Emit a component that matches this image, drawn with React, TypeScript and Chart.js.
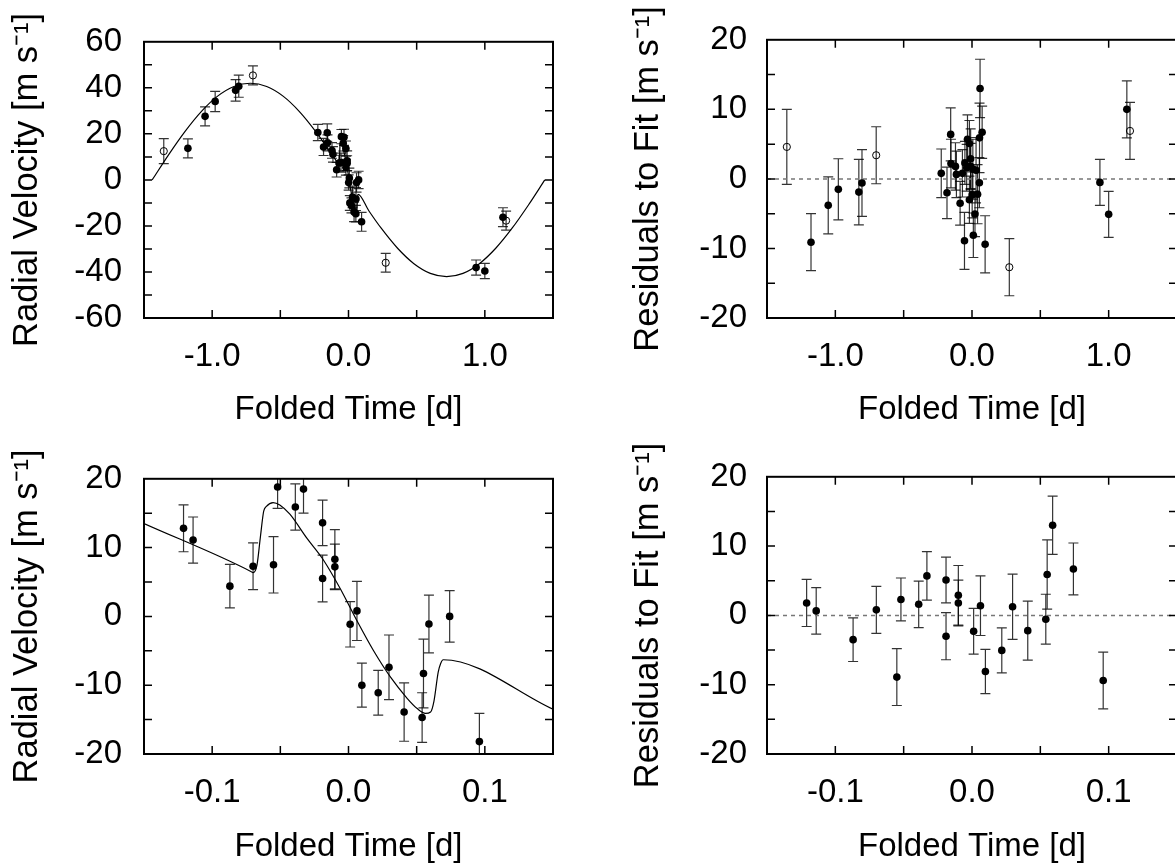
import React, { useEffect, useRef } from "react";
import { Chart, registerables } from "chart.js";

Chart.register(...registerables);

const FONT_FAMILY = "'Liberation Sans', Arial, Helvetica, sans-serif";
const FONT_SIZE = 33;
const Y_TITLE_SIZE = 34.5;

// ---- Data: points inside the transit window (shown in all four panels) ----
const innerTime = [-0.121, -0.114, -0.087, -0.070, -0.055, -0.052, -0.039, -0.033, -0.019, -0.019, -0.010, -0.010, 0.0012, 0.0062, 0.0098, 0.0218, 0.0297, 0.0408, 0.054, 0.055, 0.059, 0.0742, 0.096];
const innerRV = [12.8, 11.1, 4.4, 7.3, 7.5, 18.8, 15.9, 18.5, 5.5, 13.6, 8.3, 7.2, -1.15, 0.8, -10.0, -11.1, -7.4, -13.9, -14.7, -8.3, -1.1, 0.0, -18.2];
const innerErr = [3.4, 3.35, 3.15, 3.4, 4.1, 3.1, 3.35, 3.5, 3.4, 3.3, 4.3, 3.3, 3.3, 4.3, 3.2, 3.25, 4.7, 4.25, 3.6, 5.0, 4.2, 3.75, 4.1];
const innerResid = [1.8, 0.65, -3.5, 0.8, -8.9, 2.3, 1.6, 5.7, -3.0, 5.1, 2.9, 1.8, -2.3, 1.4, -8.1, -5.05, 1.25, -2.2, -0.55, 5.9, 13.0, 6.7, -9.4];

// ---- Data: other filled points (upper panels only) ----
const outerTime = [-1.178, -1.052, -0.978, -0.828, -0.805, -0.225, -0.183, -0.156, -0.154, 0.936, 1.0, 1.133];
const outerRV = [13.7, 27.6, 34.1, 38.9, 40.7, 20.6, 14.3, 20.5, 16.1, -38.1, -39.6, -16.2];
const outerErr = [4.1, 4.1, 4.4, 4.7, 4.8, 3.5, 3.7, 3.8, 3.5, 3.3, 3.3, 4.1];
const outerResid = [-9.1, -3.8, -1.5, -1.9, -0.6, 0.8, -2.0, 6.4, 2.2, -0.5, -5.1, 10.0];

// ---- Data: open circles (upper panels only) ----
const openTime = [-1.355, -0.701, 0.273, 1.156];
const openRV = [12.5, 45.4, -36.0, -17.7];
const openErr = [5.4, 4.1, 4.1, 4.1];
const openResid = [4.6, 3.4, -12.7, 6.9];

// ---- Model curve (orbit part, outside the transit window) ----
const modelTime = [-1.44, -1.32, -1.2, -1.08, -0.96, -0.84, -0.72, -0.6, -0.48, -0.36, -0.24, 0.24, 0.36, 0.48, 0.6, 0.72, 0.84, 0.96, 1.08, 1.2, 1.32, 1.44];
const modelRV = [0, 10.9, 21.0, 29.7, 36.4, 40.6, 42.0, 40.6, 36.4, 29.7, 21.0, -21.0, -29.7, -36.4, -40.6, -42.0, -40.6, -36.4, -29.7, -21.0, -10.9, 0];

// ---- Model curve (transit window, with the anomaly) ----
const rmTime = [-0.15, -0.0713, -0.07, -0.0671, -0.0646, -0.0622, -0.0602, -0.0553, -0.0504, -0.043, -0.0307, -0.0184, -0.0061, 0.0061, 0.0184, 0.0307, 0.043, 0.0504, 0.0565, 0.0602, 0.0627, 0.0658, 0.0676, 0.0695, 0.15];
const rmRV = [13.5, 6.5, 6.35, 7.5, 11.6, 15.3, 16.0, 16.55, 16.2, 14.85, 11.4, 8.2, 4.05, -0.6, -5.0, -8.8, -11.9, -13.4, -14.1, -13.9, -12.3, -8.1, -6.85, -6.3, -13.5];

// ---- Axis ticks ----
const wideTimeLabels = [-1, 0, 1];
const wideTimeMarks = [-1, -0.5, 0, 0.5, 1];
const zoomTimeLabels = [-0.1, 0, 0.1];
const zoomTimeMarks = [-0.1, -0.05, 0, 0.05, 0.1];
const rvWideLabels = [-60, -40, -20, 0, 20, 40, 60];
const rvWideMarks = [-50, -40, -30, -20, -10, 0, 10, 20, 30, 40, 50];
const smallLabels = [-20, -10, 0, 10, 20];
const smallMarks = [-15, -10, -5, 0, 5, 10, 15];

const X_TITLE = "Folded Time [d]";
const RV_TITLE = "Radial Velocity [m s\u207B\u00B9]";
const RES_TITLE = "Residuals to Fit [m s\u207B\u00B9]";

type Pt = { x: number; y: number; e: number };
const pts = (t: number[], v: number[], e?: number[]): Pt[] =>
  t.map((x, i) => ({ x, y: v[i], e: e ? e[i] : 0 }));

const filledSet = (data: Pt[]) => ({
  type: "scatter",
  data,
  withErrors: true,
  pointRadius: 3.8,
  pointHoverRadius: 3.8,
  pointBackgroundColor: "#000",
  pointBorderColor: "#000",
  pointBorderWidth: 0,
  showLine: false,
});

const openSet = (data: Pt[]) => ({
  type: "scatter",
  data,
  withErrors: true,
  pointRadius: 3.6,
  pointHoverRadius: 3.6,
  pointBackgroundColor: "rgba(0,0,0,0)",
  pointBorderColor: "#000",
  pointBorderWidth: 1,
  showLine: false,
});

const modelSet = (data: Pt[]) => ({
  type: "line",
  data,
  borderColor: "#000",
  borderWidth: 1.2,
  pointRadius: 0,
  cubicInterpolationMode: "monotone",
  fill: false,
});

const zeroSet = (xMin: number, xMax: number) => ({
  type: "line",
  data: [
    { x: xMin, y: 0 },
    { x: xMax, y: 0 },
  ],
  borderColor: "#777",
  borderWidth: 1.5,
  borderDash: [4, 4],
  pointRadius: 0,
  fill: false,
});

type Spec = {
  left: number;
  top: number;
  width: number;
  height: number;
  area: { left: number; top: number; right: number; bottom: number };
  xMin: number;
  xMax: number;
  xLabels: number[];
  xMarks: number[];
  xDigits: number;
  yMin: number;
  yMax: number;
  yLabels: number[];
  yMarks: number[];
  yTitle: string;
  yTitlePad: number;
  yTickPad: number;
  datasets: any[];
};

const framePlugin = (spec: Spec) => ({
  id: "frameTicks",
  beforeDatasetsDraw(chart: any) {
    const { ctx, chartArea: a, scales } = chart;
    const xs = scales.x;
    const ys = scales.y;
    ctx.save();
    ctx.beginPath();
    ctx.rect(a.left, a.top, a.right - a.left, a.bottom - a.top);
    ctx.clip();
    ctx.strokeStyle = "rgba(0,0,0,0.8)";
    ctx.lineWidth = 1.2;
    chart.data.datasets.forEach((ds: any) => {
      if (!ds.withErrors) return;
      ds.data.forEach((d: Pt) => {
        const px = xs.getPixelForValue(d.x);
        const yTop = ys.getPixelForValue(d.y + d.e);
        const yBot = ys.getPixelForValue(d.y - d.e);
        ctx.beginPath();
        ctx.moveTo(px, yTop);
        ctx.lineTo(px, yBot);
        ctx.moveTo(px - 5, yTop);
        ctx.lineTo(px + 5, yTop);
        ctx.moveTo(px - 5, yBot);
        ctx.lineTo(px + 5, yBot);
        ctx.stroke();
      });
    });
    ctx.restore();
  },
  afterDatasetsDraw(chart: any) {
    const { ctx, chartArea: a, scales } = chart;
    const xs = scales.x;
    const ys = scales.y;
    const tick = 8;
    ctx.save();
    ctx.strokeStyle = "#000";
    ctx.lineWidth = 1.5;
    ctx.beginPath();
    spec.xMarks.forEach((v) => {
      const px = xs.getPixelForValue(v);
      ctx.moveTo(px, a.bottom);
      ctx.lineTo(px, a.bottom - tick);
      ctx.moveTo(px, a.top);
      ctx.lineTo(px, a.top + tick);
    });
    spec.yMarks.forEach((v) => {
      const py = ys.getPixelForValue(v);
      ctx.moveTo(a.left, py);
      ctx.lineTo(a.left + tick, py);
      ctx.moveTo(a.right, py);
      ctx.lineTo(a.right - tick, py);
    });
    ctx.stroke();
    ctx.lineWidth = 2;
    ctx.strokeRect(a.left, a.top, a.right - a.left, a.bottom - a.top);
    ctx.restore();
  },
});

const makeConfig = (spec: Spec): any => {
  const font = { family: FONT_FAMILY, size: FONT_SIZE, lineHeight: 1.2 };
  const yTitleFont = { family: FONT_FAMILY, size: Y_TITLE_SIZE, lineHeight: 1.2 };
  return {
    type: "scatter",
    data: { datasets: spec.datasets },
    options: {
      animation: false,
      responsive: false,
      maintainAspectRatio: false,
      devicePixelRatio: 1,
      events: [],
      layout: {
        padding: {
          top: spec.area.top,
          right: spec.width - spec.area.right,
          left: 0,
          bottom: 0,
        },
      },
      plugins: {
        legend: { display: false },
        tooltip: { enabled: false },
      },
      scales: {
        x: {
          type: "linear",
          min: spec.xMin,
          max: spec.xMax,
          grid: { display: false, drawTicks: false },
          border: { display: false },
          afterBuildTicks: (s: any) => {
            s.ticks = spec.xLabels.map((v) => ({ value: v }));
          },
          afterFit: (s: any) => {
            s.height = spec.height - spec.area.bottom;
          },
          ticks: {
            autoSkip: false,
            maxRotation: 0,
            minRotation: 0,
            padding: 19,
            color: "#000",
            font,
            callback: (v: any) => Number(v).toFixed(spec.xDigits),
          },
          title: {
            display: true,
            text: X_TITLE,
            color: "#000",
            font,
            padding: { top: 0, bottom: 7 },
          },
        },
        y: {
          type: "linear",
          min: spec.yMin,
          max: spec.yMax,
          grid: { display: false, drawTicks: false },
          border: { display: false },
          afterBuildTicks: (s: any) => {
            s.ticks = spec.yLabels.map((v) => ({ value: v }));
          },
          afterFit: (s: any) => {
            s.width = spec.area.left;
          },
          ticks: {
            autoSkip: false,
            padding: spec.yTickPad,
            color: "#000",
            font,
            callback: (v: any) => String(v),
          },
          title: {
            display: true,
            text: spec.yTitle,
            color: "#000",
            font: yTitleFont,
            padding: { top: spec.yTitlePad, bottom: 0 },
          },
        },
      },
    },
    plugins: [framePlugin(spec)],
  };
};

const Panel: React.FC<{ spec: Spec }> = ({ spec }) => {
  const ref = useRef<HTMLCanvasElement | null>(null);
  useEffect(() => {
    if (!ref.current) return;
    const chart = new Chart(ref.current, makeConfig(spec));
    return () => chart.destroy();
  }, [spec]);
  return (
    <canvas
      ref={ref}
      width={spec.width}
      height={spec.height}
      style={{
        position: "absolute",
        left: spec.left,
        top: spec.top,
        width: spec.width,
        height: spec.height,
      }}
    />
  );
};

const topModel = [...pts(modelTime, modelRV), ...pts(rmTime, rmRV)].sort((a, b) => a.x - b.x);

const leftArea = { left: 144, top: 27, right: 553, bottom: 318 };
const rightArea = { left: 167, top: 27, right: 577, bottom: 318 };
const leftAreaB = { left: 144, top: 27, right: 553, bottom: 317 };
const rightAreaB = { left: 167, top: 27, right: 577, bottom: 317 };

const specs: Spec[] = [
  {
    left: 0, top: 0, width: 600, height: 437, area: leftArea,
    xMin: -1.5, xMax: 1.5, xLabels: wideTimeLabels, xMarks: wideTimeMarks, xDigits: 1,
    yMin: -60, yMax: 60, yLabels: rvWideLabels, yMarks: rvWideMarks,
    yTitle: RV_TITLE, yTitlePad: 7, yTickPad: 22,
    datasets: [
      filledSet([...pts(innerTime, innerRV, innerErr), ...pts(outerTime, outerRV, outerErr)]),
      openSet(pts(openTime, openRV, openErr)),
      modelSet(topModel),
    ],
  },
  {
    left: 600, top: 0, width: 600, height: 437, area: rightArea,
    xMin: -1.5, xMax: 1.5, xLabels: wideTimeLabels, xMarks: wideTimeMarks, xDigits: 1,
    yMin: -20, yMax: 20, yLabels: smallLabels, yMarks: smallMarks,
    yTitle: RES_TITLE, yTitlePad: 28, yTickPad: 20,
    datasets: [
      filledSet([...pts(innerTime, innerResid, innerErr), ...pts(outerTime, outerResid, outerErr)]),
      openSet(pts(openTime, openResid, openErr)),
      zeroSet(-1.5, 1.5),
    ],
  },
  {
    left: 0, top: 437, width: 600, height: 437, area: leftAreaB,
    xMin: -0.15, xMax: 0.15, xLabels: zoomTimeLabels, xMarks: zoomTimeMarks, xDigits: 1,
    yMin: -20, yMax: 20, yLabels: smallLabels, yMarks: smallMarks,
    yTitle: RV_TITLE, yTitlePad: 7, yTickPad: 22,
    datasets: [
      filledSet(pts(innerTime, innerRV, innerErr)),
      modelSet(pts(rmTime, rmRV)),
    ],
  },
  {
    left: 600, top: 437, width: 600, height: 437, area: rightAreaB,
    xMin: -0.15, xMax: 0.15, xLabels: zoomTimeLabels, xMarks: zoomTimeMarks, xDigits: 1,
    yMin: -20, yMax: 20, yLabels: smallLabels, yMarks: smallMarks,
    yTitle: RES_TITLE, yTitlePad: 28, yTickPad: 20,
    datasets: [
      filledSet(pts(innerTime, innerResid, innerErr)),
      zeroSet(-0.15, 0.15),
    ],
  },
];

export default function App() {
  return (
    <div
      style={{
        position: "absolute",
        left: 0,
        top: 0,
        width: 1175,
        height: 865,
        overflow: "hidden",
        background: "#fff",
      }}
    >
      {specs.map((s, i) => (
        <Panel key={i} spec={s} />
      ))}
    </div>
  );
}
